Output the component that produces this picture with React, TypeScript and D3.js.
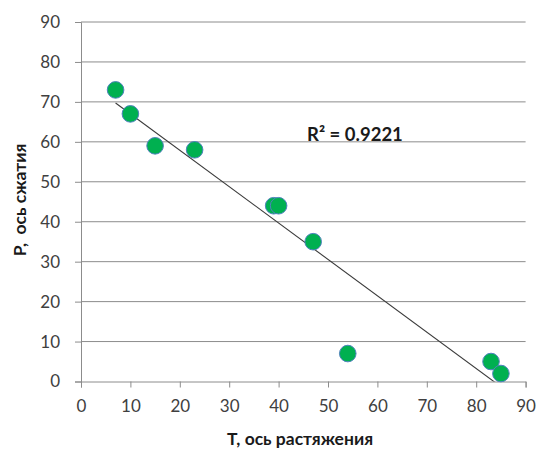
import React, { useEffect, useRef } from 'react';
import * as d3 from 'd3';

// T, ось растяжения
const tValues = [7, 10, 15, 23, 39, 40, 47, 54, 83, 85];
// P, ось сжатия
const pValues = [73, 67, 59, 58, 44, 44, 35, 7, 5, 2];
const xTicks = [0, 10, 20, 30, 40, 50, 60, 70, 80, 90];
const yTicks = [0, 10, 20, 30, 40, 50, 60, 70, 80, 90];
const r2Label = 'R² = 0.9221';

const App = () => {
  const ref = useRef<SVGSVGElement>(null);

  useEffect(() => {
    if (!ref.current) return;
    const width = 538;
    const height = 450;
    const left = 81, right = 525.6, top = 22, bottom = 381.5;
    const font = 'Lato, "Open Sans", sans-serif';

    const svg = d3.select(ref.current);
    svg.selectAll('*').remove();
    svg.attr('width', width).attr('height', height);

    const x = d3.scaleLinear().domain([0, 90]).range([left, right]);
    const y = d3.scaleLinear().domain([0, 90]).range([bottom, top]);

    // horizontal gridlines
    svg.append('g')
      .selectAll('line')
      .data(yTicks.slice(1))
      .join('line')
      .attr('x1', left).attr('x2', right)
      .attr('y1', d => y(d)).attr('y2', d => y(d))
      .attr('stroke', '#8c8c8c').attr('stroke-width', 1);

    // y axis
    const yAxis = svg.append('g')
      .attr('transform', `translate(${left},0)`)
      .call(d3.axisLeft(y).tickValues(yTicks).tickSize(6).tickPadding(15));
    // x axis
    const xAxis = svg.append('g')
      .attr('transform', `translate(0,${bottom})`)
      .call(d3.axisBottom(x).tickValues(xTicks).tickSize(6).tickPadding(12));

    [yAxis, xAxis].forEach(ax => {
      ax.select('.domain').attr('stroke', '#8c8c8c');
      ax.selectAll('.tick line').attr('stroke', '#8c8c8c');
      ax.selectAll('.tick text')
        .attr('fill', '#404040')
        .style('font-family', font)
        .style('font-size', '17px');
    });

    // trendline (least squares), clipped to plot area
    const mx = d3.mean(tValues)!;
    const my = d3.mean(pValues)!;
    const sxy = d3.sum(tValues, (t, i) => (t - mx) * (pValues[i] - my));
    const sxx = d3.sum(tValues, t => (t - mx) ** 2);
    const slope = sxy / sxx;
    const intercept = my - slope * mx;
    const [x0, x1] = d3.extent(tValues) as [number, number];

    svg.append('clipPath').attr('id', 'plot-clip')
      .append('rect')
      .attr('x', left).attr('y', top)
      .attr('width', right - left).attr('height', bottom - top);

    svg.append('line')
      .attr('clip-path', 'url(#plot-clip)')
      .attr('x1', x(x0)).attr('y1', y(intercept + slope * x0))
      .attr('x2', x(x1)).attr('y2', y(intercept + slope * x1))
      .attr('stroke', '#3a3a3a').attr('stroke-width', 1.1);

    // points
    svg.append('g')
      .selectAll('circle')
      .data(tValues.map((t, i) => ({ t, p: pValues[i] })))
      .join('circle')
      .attr('cx', d => x(d.t))
      .attr('cy', d => y(d.p))
      .attr('r', 8.3)
      .attr('fill', '#00b050')
      .attr('stroke', '#4f81bd')
      .attr('stroke-width', 1);

    // R² label
    svg.append('text')
      .attr('x', 307).attr('y', 141)
      .style('font-family', font)
      .style('font-size', '18.5px')
      .style('font-weight', 'bold')
      .attr('fill', '#1a1a1a')
      .text(r2Label);

    // axis titles
    svg.append('text')
      .attr('x', 300).attr('y', 445)
      .attr('text-anchor', 'middle')
      .style('font-family', font)
      .style('font-size', '17.5px')
      .style('font-weight', 'bold')
      .attr('fill', '#1a1a1a')
      .text('T, ось растяжения');

    svg.append('text')
      .attr('transform', 'translate(26,200) rotate(-90)')
      .attr('text-anchor', 'middle')
      .style('font-family', font)
      .style('font-size', '17.5px')
      .style('font-weight', 'bold')
      .attr('fill', '#1a1a1a')
      .style('white-space', 'pre')
      .text('P,  ось сжатия');
  }, []);

  return <svg ref={ref} style={{ position: 'absolute', left: 0, top: 0, background: '#fff' }} />;
};

export default App;
